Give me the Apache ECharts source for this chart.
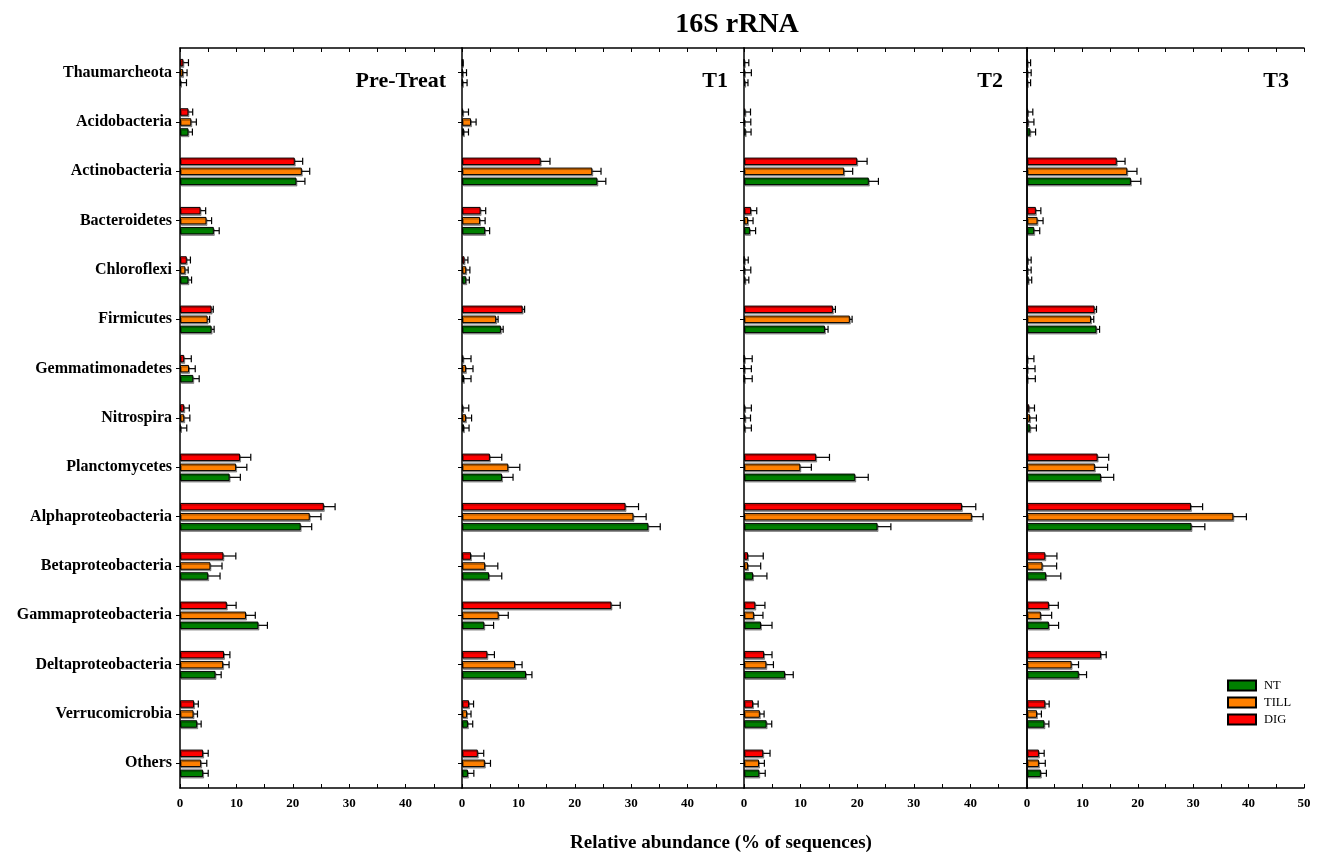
<!DOCTYPE html>
<html><head><meta charset="utf-8">
<script src="https://cdn.jsdelivr.net/npm/echarts@6/dist/echarts.min.js"></script>
<style>html,body{margin:0;padding:0;background:#fff}#c{width:1322px;height:856px}</style>
</head><body><div id="c"></div>
<script>
const categories = ['Thaumarcheota','Acidobacteria','Actinobacteria','Bacteroidetes','Chloroflexi','Firmicutes','Gemmatimonadetes','Nitrospira','Planctomycetes','Alphaproteobacteria','Betaproteobacteria','Gammaproteobacteria','Deltaproteobacteria','Verrucomicrobia','Others'];
const panelLabels = ['Pre-Treat','T1','T2','T3'];
const xTicks = [0,10,20,30,40,50];

// Pre-Treat
const preNT      = [0.15,1.5,20.65,6.0,1.5,5.6,2.35,0.15,8.8,21.4,5.0,13.9,6.3,3.05,4.1];
const preNTerr   = [1.0,0.7,1.5,0.95,0.55,0.45,1.05,1.05,1.9,1.95,2.1,1.6,1.0,0.7,0.9];
const preTILL    = [0.55,2.0,21.6,4.7,0.95,4.9,1.6,0.75,9.95,23.0,5.4,11.7,7.65,2.4,3.75];
const preTILLerr = [0.7,0.9,1.4,0.9,0.5,0.35,1.1,1.0,1.9,2.0,2.05,1.65,1.05,0.7,1.0];
const preDIG     = [0.6,1.5,20.35,3.65,1.2,5.6,0.75,0.75,10.65,25.5,7.7,8.3,7.8,2.5,4.1];
const preDIGerr  = [0.9,0.75,1.4,0.9,0.65,0.3,1.25,0.9,1.9,2.0,2.2,1.65,1.05,0.75,0.9];
// T1
const t1NT       = [0.1,0.35,24.0,4.1,0.75,6.9,0.35,0.35,7.1,33.05,4.8,3.95,11.35,1.05,1.05];
const t1NTerr    = [0.8,0.8,1.5,0.8,0.55,0.4,1.25,0.9,1.95,2.1,2.25,1.65,1.05,0.85,1.05];
const t1TILL     = [0.1,1.6,23.1,3.2,0.75,6.05,0.7,0.7,8.2,30.4,4.1,6.5,9.4,0.9,4.05];
const t1TILLerr  = [0.7,0.9,1.55,0.9,0.65,0.35,1.25,1.0,2.05,2.25,2.25,1.7,1.25,0.7,1.0];
const t1DIG      = [0.1,0.2,13.95,3.3,0.45,10.75,0.25,0.2,4.95,29.0,1.6,26.5,4.5,1.25,2.8];
const t1DIGerr   = [0.1,0.95,1.65,0.9,0.6,0.35,1.35,1.0,2.1,2.3,2.35,1.55,1.25,0.8,1.05];
// T2
const t2NT       = [0.2,0.3,22.05,1.05,0.25,14.3,0.05,0.2,19.65,23.6,1.6,3.0,7.25,4.0,2.7];
const t2NTerr    = [0.5,0.95,1.7,1.0,0.6,0.55,1.4,1.1,2.3,2.35,2.45,1.95,1.45,0.9,1.05];
const t2TILL     = [0.1,0.1,17.7,0.7,0.1,18.7,0.05,0.25,9.95,40.25,0.7,1.75,3.95,2.8,2.65];
const t2TILLerr  = [1.2,1.1,1.5,0.9,1.1,0.4,1.25,0.9,1.95,2.0,2.25,1.6,1.25,0.75,0.95];
const t2DIG      = [0.05,0.25,20.0,1.25,0.05,15.7,0.05,0.2,12.75,38.5,0.7,2.0,3.55,1.6,3.4];
const t2DIGerr   = [0.8,0.9,1.75,1.0,0.7,0.45,1.4,1.1,2.35,2.45,2.7,1.7,1.4,0.9,1.2];
// T3
const t3NT       = [0.05,0.6,18.75,1.3,0.3,12.55,0.05,0.6,13.35,29.7,3.45,3.95,9.35,3.15,2.5];
const t3NTerr    = [0.6,0.95,1.8,1.0,0.55,0.55,1.45,1.1,2.3,2.4,2.65,1.75,1.4,0.8,1.0];
const t3TILL     = [0.05,0.25,18.1,1.9,0.1,11.55,0.05,0.55,12.25,37.25,2.8,2.5,8.05,1.8,2.15];
const t3TILLerr  = [0.7,1.0,1.75,1.0,0.65,0.5,1.4,1.15,2.3,2.35,2.55,1.95,1.25,0.8,1.15];
const t3DIG      = [0.05,0.2,16.2,1.6,0.2,12.2,0.05,0.4,12.75,29.6,3.3,3.95,13.35,3.3,2.15];
const t3DIGerr   = [0.6,0.85,1.5,0.9,0.55,0.35,1.2,0.95,2.0,2.1,2.1,1.7,0.95,0.7,0.95];

const treatments = ['DIG','TILL','NT']; // top to bottom inside each group
const panelValues = [[preDIG,preTILL,preNT],[t1DIG,t1TILL,t1NT],[t2DIG,t2TILL,t2NT],[t3DIG,t3TILL,t3NT]];
const panelErrors = [[preDIGerr,preTILLerr,preNTerr],[t1DIGerr,t1TILLerr,t1NTerr],[t2DIGerr,t2TILLerr,t2NTerr],[t3DIGerr,t3TILLerr,t3NTerr]];

const FONT = '"Liberation Serif","Times New Roman",serif';
const COLORS = {NT:'#008000', TILL:'#ff8000', DIG:'#ff0000'};
const BAR_W = 7.5, BAR_GAP = 2.5;
const gridBoxes = [{left:180,width:282},{left:462,width:282},{left:744,width:283},{left:1027,width:277}];
const labelRight = [446, 728, 1003, 1289];

const chart = echarts.init(document.getElementById('c'), null, {renderer:'canvas'});
const grid=[], xAxis=[], yAxis=[], series=[], graphic=[];

for (let p=0;p<4;p++){
  grid.push({left:gridBoxes[p].left, width:gridBoxes[p].width, top:48, height:740, containLabel:false, outerBoundsMode:'none'});
  const common = {gridIndex:p, type:'value', min:xTicks[0], max:xTicks[xTicks.length-1], interval:xTicks[1]-xTicks[0],
    axisLine:{show:true,onZero:false,lineStyle:{color:'#000',width:1.5}},
    axisTick:{show:true,inside:true,length:4,lineStyle:{color:'#000',width:1}},
    minorTick:{show:true,splitNumber:2,length:4,lineStyle:{color:'#000',width:1}},
    splitLine:{show:false}, minorSplitLine:{show:false}};
  xAxis.push(Object.assign({}, common, {position:'bottom',
    axisLabel:{show:true, showMinLabel:true, showMaxLabel:p===3, color:'#000', fontFamily:FONT, fontWeight:'bold', fontSize:13, margin:9}}));
  xAxis.push(Object.assign({}, common, {position:'top', axisLabel:{show:false}}));
  yAxis.push({gridIndex:p, type:'category', inverse:true, data:categories,
    axisLine:{show:true,onZero:false,lineStyle:{color:'#000',width:1.5}},
    axisTick:{show:true, alignWithLabel:true, length:4, lineStyle:{color:'#000',width:1}},
    splitLine:{show:false},
    axisLabel:{show:p===0, color:'#000', fontFamily:FONT, fontWeight:'bold', fontSize:16, margin:8}});
  treatments.forEach((t,k)=>{
    series.push({type:'bar', name:t, xAxisIndex:2*p, yAxisIndex:p, barWidth:BAR_W, barGap:'33.33%',
      data: panelValues[p][k],
      itemStyle:{color:COLORS[t], borderColor:'#000', borderWidth:1, shadowColor:'rgba(0,0,0,0.35)', shadowOffsetX:1, shadowOffsetY:1.5, shadowBlur:0},
      emphasis:{disabled:true}, z:2});
  });
  treatments.forEach((t,k)=>{
    const vals = panelValues[p][k], errs = panelErrors[p][k];
    series.push({type:'custom', name:'err_'+t, xAxisIndex:2*p, yAxisIndex:p, z:3, silent:true,
      encode:{x:0, y:2},
      data: categories.map((c,i)=>[vals[i], errs[i], i]),
      renderItem:(params, api)=>{
        const v = api.value(0), e = api.value(1), c = api.value(2);
        const a = api.coord([v, c]), b = api.coord([v+e, c]);
        const y = a[1] + (k-1)*(BAR_W+BAR_GAP);
        const st = {stroke:'#000', lineWidth:1.2};
        return {type:'group', children:[
          {type:'line', shape:{x1:a[0],y1:y,x2:b[0],y2:y}, style:st},
          {type:'line', shape:{x1:b[0],y1:y-3.5,x2:b[0],y2:y+3.5}, style:st}
        ]};
      }});
  });
  graphic.push({type:'text', x:labelRight[p], y:81, style:{text:panelLabels[p], fill:'#000', font:'bold 22px '+FONT, textAlign:'right', textVerticalAlign:'middle'}});
}
yAxis.push({gridIndex:3, type:'value', position:'right', min:0, max:1,
  axisLine:{show:true,lineStyle:{color:'#000',width:1.5}}, axisTick:{show:false}, axisLabel:{show:false}, splitLine:{show:false}});

graphic.push({type:'text', x:737, y:25, style:{text:'16S rRNA', fill:'#000', font:'bold 28px '+FONT, textAlign:'center', textVerticalAlign:'middle'}});
graphic.push({type:'text', x:721, y:843, style:{text:'Relative abundance (% of sequences)', fill:'#000', font:'bold 19px '+FONT, textAlign:'center', textVerticalAlign:'middle'}});

chart.setOption({
  animation:false,
  backgroundColor:'#fff',
  grid, xAxis, yAxis, series, graphic,
  legend:{data:['NT','TILL','DIG'], orient:'vertical', left:1222, top:674, itemWidth:28, itemHeight:10, itemGap:4,
    icon:'rect', selectedMode:false, textStyle:{fontFamily:FONT, fontSize:12.5, color:'#000', padding:[0,0,0,3]}}
});
</script></body></html>
